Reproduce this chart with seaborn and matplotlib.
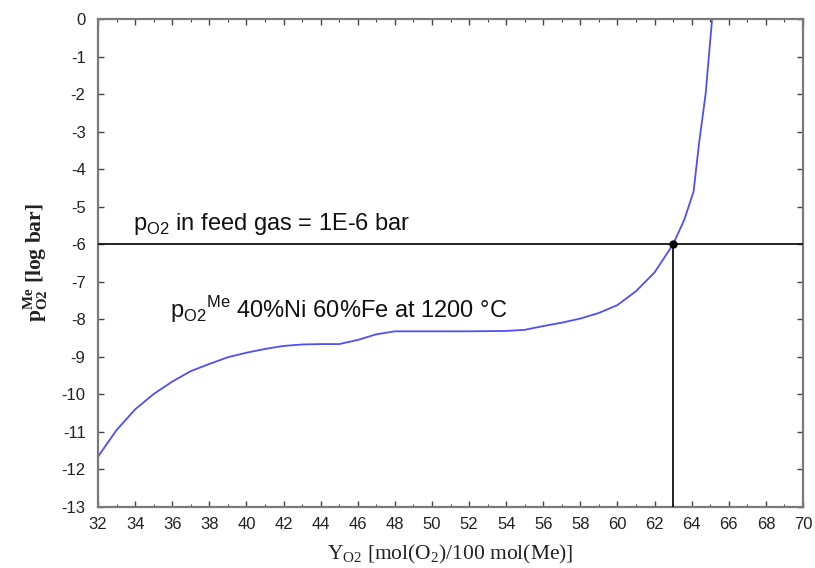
import matplotlib
matplotlib.use("Agg")
import matplotlib.pyplot as plt
from matplotlib.ticker import MultipleLocator
import numpy as np
import pandas as pd
import seaborn as sns

# Oxygen uptake (mol O2 / 100 mol metal) and equilibrium log pO2 of the alloy
y_o2 = [32, 33, 34, 35, 36, 37, 38, 39, 40, 41, 42, 43, 44, 45, 46, 47, 48,
        50, 52, 54, 55, 56, 57, 58, 59, 60, 61, 62, 63, 63.6, 64.1, 64.4,
        64.75, 65.1]
log_po2 = [-11.66, -10.95, -10.4, -9.99, -9.66, -9.38, -9.19, -9.01, -8.89,
           -8.79, -8.71, -8.67, -8.66, -8.66, -8.55, -8.4, -8.32, -8.32,
           -8.32, -8.31, -8.28, -8.18, -8.09, -7.98, -7.83, -7.62, -7.25,
           -6.75, -6.0, -5.35, -4.6, -3.3, -2.0, 0.0]

feed_log_po2 = -6.0       # feed gas pO2 = 1E-6 bar
crossing_y_o2 = 63.0      # uptake where the alloy curve meets the feed level

x_ticks = list(range(32, 71, 2))
y_ticks = list(range(-13, 1))

sns.set_theme(style="ticks")
plt.rcParams["font.family"] = ["Liberation Sans", "DejaVu Sans"]
plt.rcParams["axes.unicode_minus"] = False
plt.rcParams["mathtext.fontset"] = "custom"
plt.rcParams["mathtext.rm"] = "Liberation Serif"
plt.rcParams["mathtext.bf"] = "Liberation Serif:bold"
plt.rcParams["mathtext.sf"] = "Liberation Sans"

fig = plt.figure(figsize=(8.15, 5.68), dpi=100)
ax = fig.add_axes([98 / 815, 1 - 507 / 568, 705 / 815, 488 / 568])

df = pd.DataFrame({"Y_O2": y_o2, "logpO2": log_po2})
sns.lineplot(data=df, x="Y_O2", y="logpO2", ax=ax, color="#4f4ff5",
             linewidth=1.3, estimator=None, sort=False)

# feed-gas level and its intersection with the alloy curve
ax.axhline(feed_log_po2, color="#111111", linewidth=1.3, zorder=3)
ax.plot([crossing_y_o2, crossing_y_o2], [-13, feed_log_po2],
        color="#111111", linewidth=1.3, zorder=3)
ax.plot([crossing_y_o2], [feed_log_po2], marker="o", color="black",
        markersize=5, zorder=4)

ax.set_xlim(32, 70)
ax.set_ylim(-13, 0)
ax.set_xticks(x_ticks)
ax.set_yticks(y_ticks)
ax.xaxis.set_minor_locator(MultipleLocator(1))

for side in ax.spines.values():
    side.set_color("#7a7a7a")
    side.set_linewidth(1.6)

ax.tick_params(axis="both", which="major", direction="in", length=4,
               width=1.0, color="#444444", top=True, right=True,
               labelsize=12, labelcolor="#222222")
ax.tick_params(axis="y", which="major", pad=9)
ax.tick_params(axis="x", which="major", pad=7)
ax.tick_params(axis="x", which="minor", direction="in", length=2.5,
               width=0.8, color="#444444", top=True)

ax.set_xlabel(r"$\mathrm{Y}_{\mathrm{O2}}$ [mol(O$_2$)/100 mol(Me)]",
              fontsize=15.5, family="Liberation Serif", color="#222222",
              labelpad=8)
ax.set_ylabel(r"$\mathbf{p}_{\mathbf{O2}}^{\mathbf{Me}}$ [log bar]",
              fontsize=15.5, family="Liberation Serif", fontweight="bold",
              color="#222222", labelpad=8)

ax.text(33.9, -5.46, r"$\mathsf{p}_{\mathsf{O2}}$ in feed gas = 1E-6 bar",
        fontsize=17, va="center", ha="left", color="#111111")
ax.text(35.9, -7.75,
        r"$\mathsf{p}_{\mathsf{O2}}{}^{\mathsf{Me}}$ 40%Ni 60%Fe at 1200 °C",
        fontsize=17, va="center", ha="left", color="#111111")

fig.savefig("out.png", dpi=100)
